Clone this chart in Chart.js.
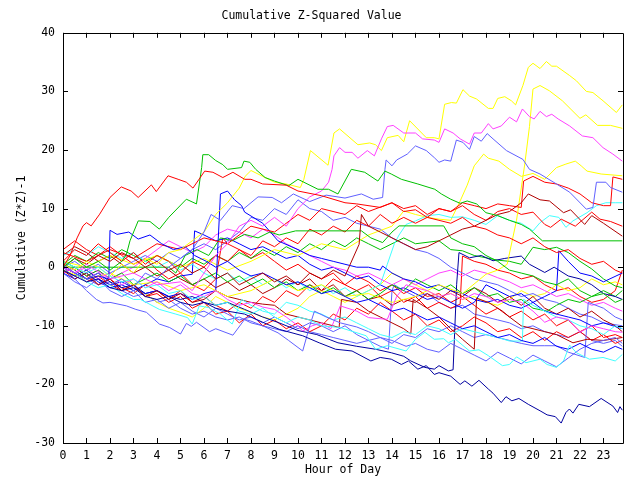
<!DOCTYPE html>
<html>
<head>
<meta charset="utf-8">
<script src="https://cdn.jsdelivr.net/npm/chart.js@4/dist/chart.umd.min.js"></script>
<style>
  html, body { margin: 0; padding: 0; background: #fff; }
  #wrap { width: 640px; height: 480px; }
</style>
</head>
<body>
<div id="wrap"><canvas id="zchart"></canvas></div>
<script>
// hour ticks and value ticks
var hourTicks = [0,1,2,3,4,5,6,7,8,9,10,11,12,13,14,15,16,17,18,19,20,21,22,23];
var valueTicks = [-30,-20,-10,0,10,20,30,40];

// each series: [hour, cumulative value] pairs
var red1 = [[0,0],[0.3,2],[0.6,5],[0.85,7.05],[1.0,7.6],[1.2,7.05],[1.56,9.05],[2.0,11.9],[2.48,13.7],[2.9,13],[3.2,11.9],[3.76,14.05],[3.97,12.9],[4.47,15.6],[4.9,15],[5.25,14.5],[5.53,13.5],[6.03,16.4],[6.38,16.2],[6.8,15.3],[7.23,16.2],[7.73,15],[8,15],[8.5,14.2],[9.5,14],[10,13],[11,12.2],[12,11],[12.5,10.8],[13.5,10.2],[14,11],[14.5,9.5],[15,9.8],[15.5,8.5],[16,8],[16.5,7.5],[17,8.5],[17.5,7],[18,6.5],[18.5,5.5],[19,5],[19.5,4],[20,5],[20.5,3.5],[21,2.5],[21.5,3],[22,1.5],[22.5,0.5],[23,1],[23.5,-0.5],[23.8,-1]];
var red2 = [[0,2.5],[1,1],[2,3],[3,1.5],[4,4],[5,3],[6,5],[7,4],[8,7],[9,6],[10,9],[10.5,8],[11,10],[12,9],[12.5,10.5],[13,9.5],[14,11],[14.5,10],[15,10.5],[15.5,9],[16,10],[16.5,9.5],[17,11],[17.5,10.5],[18,10],[18.5,10.8],[19,10.5],[19.5,10.2],[19.6,14.7],[20.0,15.5],[20.5,14.5],[21,14.2],[21.5,13.5],[22,12.5],[22.5,11],[23,10.5],[23.3,10.5],[23.4,15.4],[23.8,15]];
var red3 = [[0,1],[0.5,3],[1,2],[1.5,4],[2,2.5],[2.5,1],[3,2.5],[3.5,0.5],[4,2],[4.5,1],[5,-1],[5.5,1],[6,0],[6.5,2],[7,1],[7.5,3],[8,2],[8.5,4.5],[9,3.5],[9.5,5],[10,4],[10.5,6.5],[11,5.5],[11.5,7],[12,6],[12.5,8],[13,7],[13.5,9],[14,7.5],[14.5,8.5],[15,7.5],[15.5,8.5],[16,10],[16.5,9.5],[17,10.5],[17.5,9],[18,8],[18.5,9.5],[19,10],[19.5,9],[20,9.4],[20.5,7.3],[20.75,6.8],[21.2,8.2],[21.8,7],[22.5,9.4],[22.85,8.2],[23.3,7.8],[23.8,7]];
var red4 = [[0,0],[0.5,-1],[1,-2.5],[1.5,-1.5],[2,-3],[2.5,-4],[3,-3],[3.5,-5],[4,-4.5],[4.5,-6],[5,-5],[5.5,-7],[6,-6],[6.5,-8],[7,-7.5],[7.5,-9.5],[8,-8],[8.5,-10],[9,-9],[9.5,-10.5],[10,-9.5],[10.5,-11],[11,-10],[11.5,-8],[12,-9],[12.5,-7],[13,-8],[13.5,-6],[14,-7.5],[14.5,-9],[15,-8],[15.5,-10],[16,-9],[16.5,-11],[17,-10],[17.5,-8.5],[18,-9.5],[18.5,-11],[19,-10.5],[19.5,-12],[20,-11],[20.5,-12.5],[21,-11],[21.5,-12],[22,-11],[22.5,-12.5],[23,-11.5],[23.5,-13],[23.8,-12.5]];
var red5 = [[0,3],[0.5,4.5],[1,3],[1.5,2],[2,3.5],[2.5,2],[3,0.5],[3.5,1.5],[4,-0.5],[4.5,-2],[5,-1],[5.5,-3],[6,-4],[6.5,-2],[6.8,5],[7,4],[7.5,3],[8,1.5],[8.5,2.5],[9,1],[9.5,-0.5],[10,0.5],[10.5,-1],[11,-2],[11.5,-1],[12,-3],[12.5,-4],[13,-3],[13.5,-5],[14,-4],[14.5,-6],[15,-5],[15.5,-7],[16,-6],[16.5,-7],[16.9,-6.3],[17,1.9],[17.5,1],[18,0.5],[18.5,-0.5],[19,-1],[19.5,-2],[20,-1.5],[20.5,-3],[21,-4],[21.5,-3.5],[22,-5],[22.5,-6],[23,-5.5],[23.5,-4],[23.8,-0.5]];
var red6 = [[0,-1],[0.5,0],[1,-1.5],[1.5,-3],[2,-2],[2.5,-3.5],[3,-4.5],[3.5,-3],[4,-4],[4.5,-5.5],[5,-4],[5.5,-6],[6,-5],[6.5,-6.5],[7,-7.5],[7.5,-6],[8,-7],[8.5,-5],[9,-6],[9.5,-4],[10,-5],[10.5,-3],[11,-4],[11.5,-2],[12,-3],[12.5,-1.5],[13,-2.5],[13.5,-4],[14,-3],[14.5,-4.5],[15,-3.5],[15.5,-5],[16,-4.5],[16.5,-6],[17,-5],[17.5,-6.5],[18,-8],[18.5,-7],[19,-8.5],[19.5,-7.5],[20,-9],[20.5,-8],[21,-10],[21.5,-9],[22,-11],[22.5,-10],[23,-12],[23.5,-11.5],[23.8,-12]];
var darkRed1 = [[0,0],[0.5,1.5],[1,0.5],[1.5,2],[2,1],[2.5,2.5],[3,1.5],[3.5,0],[4,1],[4.5,-0.5],[5,0.5],[5.5,-1],[6,0],[6.5,-2],[7,-1],[7.5,-3],[8,-2],[8.5,-1],[9,-2.5],[9.5,-1.5],[10,-3],[10.5,-1],[11,-2],[11.5,-0.5],[12,-1.5],[12.6,3.9],[12.7,9],[13,7],[13.5,6],[14,5],[14.5,4],[15,3],[15.5,3.5],[16,4.5],[16.5,5.5],[17,6.5],[17.5,7],[18,8],[18.5,9],[19,9.5],[19.5,11],[19.8,12.5],[20.3,11.5],[20.7,11.3],[21.3,9.3],[21.6,9.8],[22.2,7.3],[22.5,8.8],[23.0,7.5],[23.8,5.3]];
var darkRed2 = [[0,-0.5],[0.5,-2],[1,-1],[1.5,-3],[2,-2],[2.5,-4],[3,-3],[3.5,-5],[4,-4],[4.5,-5.5],[5,-4.5],[5.5,-6],[6,-5.5],[6.5,-4],[7,-5],[7.5,-5.5],[8,-6],[8.5,-6.3],[9,-6.5],[9.5,-8],[10,-8.5],[10.5,-9],[11,-9.5],[11.5,-10],[11.75,-10.3],[11.85,-5.5],[12.5,-6],[13,-7.5],[13.5,-8.5],[14,-9.5],[14.5,-10.5],[14.8,-11.4],[14.9,-5.5],[15.5,-7],[16,-8.5],[16.5,-10.5],[17,-12.3],[17.5,-14],[17.6,-5.3],[18.1,-6],[18.7,-7.5],[19,-8.5],[19.5,-10],[20,-10.5],[20.5,-11],[21,-11.5],[21.7,-12.9],[22.3,-12.3],[23,-12.5],[23.8,-12]];
var darkRed3 = [[0,2],[0.5,3.5],[1,2.5],[1.5,1],[2,2],[2.5,0.5],[3,-1],[3.5,0],[4,-1.5],[4.5,-0.5],[5,-2],[5.5,-3],[6,-2],[6.5,-3.5],[7,-2.5],[7.5,-4],[8,-3],[8.5,-4.5],[9,-3.5],[9.5,-2],[10,-3],[10.5,-2],[11,-4],[11.5,-3],[12,-5],[12.5,-4],[13,-5.5],[13.5,-5],[14,-6.5],[14.5,-5.5],[15,-6],[15.5,-4.5],[16,-5.5],[16.5,-4],[17,-5],[17.5,-3.5],[18,-4.5],[18.5,-6],[19,-5],[19.5,-6.5],[20,-5],[20.5,-7],[21,-8],[21.5,-7],[22,-8.5],[22.5,-7.5],[23,-9],[23.5,-10],[23.8,-11]];
var green1 = [[0,0],[0.5,1.5],[1,0],[1.5,1],[2,-0.5],[2.5,1],[2.7,2.2],[2.85,4.5],[3.2,7.9],[3.7,7.8],[4.1,6.5],[4.5,8.5],[5.25,11.6],[5.68,10.8],[5.9,17],[5.95,19.2],[6.2,19.2],[6.5,18.2],[6.8,17.5],[7.0,16.7],[7.6,17],[7.7,18.1],[7.95,17.9],[8.2,16.7],[8.6,15.3],[9.0,14.7],[9.6,13.9],[10.0,15],[10.85,13.3],[11.3,13.3],[11.7,12.5],[12.27,16.7],[12.84,16.2],[13.4,14.7],[13.7,16.4],[13.97,15.9],[14.4,15],[15.1,14.2],[15.82,13.3],[16.1,12.5],[16.5,11.6],[16.9,10.9],[17.2,11.3],[17.6,10.8],[18.0,9.3],[18.5,8.8],[19.0,8],[19.5,7.3],[19.85,6.5],[20.4,4.5],[23.8,4.5]];
var green2 = [[0,0.5],[0.3,0],[4.5,0],[4.8,-1],[5.2,2],[5.7,3],[6.2,2],[6.7,5],[7.2,4.5],[7.73,5.6],[8.3,5],[8.8,6],[9.2,5.5],[9.9,6.2],[12.7,6.2],[13.1,5],[13.6,4.2],[14.0,6],[14.3,7.05],[16.2,7.05],[16.5,5],[17,4],[17.5,3.5],[18,2],[18.5,1],[19,-0.5],[19.5,-1],[20,-1.5],[20.5,-2.5],[21,-3],[21.5,-2],[22,-4],[22.5,-5],[23,-4.5],[23.5,-6],[23.8,-5.5]];
var green3 = [[0,1],[0.5,0],[1,-1.5],[1.5,-0.5],[2,-2],[2.5,-1],[3,-3],[3.5,-2],[4,-1],[4.5,-2.5],[5,-1.5],[5.5,-3],[6,-2],[6.5,-1],[7,-2.5],[7.5,-1.5],[8,-3],[8.5,-2],[9,-3.5],[9.5,-2.5],[10,-4],[10.5,-3],[11,-4.5],[11.5,-3.5],[12,-5],[12.5,-4],[13,-5.5],[13.5,-4.5],[14,-3],[14.5,-4],[15,-2],[15.5,-3],[16,-4],[16.5,-3],[17,-4.5],[17.5,-3.5],[18,-5],[18.5,-4.5],[19,-6],[19.5,-5.5],[20,-7],[20.6,-7.5],[21,-6.5],[21.5,-5.5],[22,-6],[22.5,-5],[23,-4],[23.5,-5],[23.8,-4]];
var green4 = [[0,0.5],[0.5,2],[1,1],[1.5,2.5],[2,1.5],[2.5,3],[3,2],[3.5,1],[4,2],[4.5,1],[5,0],[5.5,1.5],[6,0.5],[6.5,2],[7,1],[7.5,2.5],[8,1.5],[8.5,3],[9,2],[9.5,3.5],[10,2.5],[10.5,4],[11,3],[11.5,4.5],[12,3.5],[12.5,5],[13,4],[13.5,3],[14,4],[14.5,5],[15,4],[16,4.5],[16.5,3],[17,2.8],[17.5,2],[18,1.6],[18.5,1.2],[19,1],[19.5,0.5],[20,3.4],[20.5,3],[21,3.4],[21.5,2.5],[22,1],[22.5,-0.3],[23,-2],[23.5,-3.2],[23.8,-3.5]];
var lightBlue1 = [[0,0.5],[0.5,-1],[1,-2],[1.5,-1],[2,-3],[2.5,-2],[3,-3.5],[3.5,-1],[4,-2],[4.5,0],[5,1.5],[5.5,3],[6,6],[6.3,9],[6.7,8],[7.2,10.5],[7.7,10],[8.3,12],[8.9,11.9],[9.3,11],[9.8,12.5],[10.5,11.2],[11.2,12.3],[12,11.8],[12.7,12.5],[13.2,11.6],[13.6,11.9],[13.7,16.7],[13.75,18.3],[14.0,17.3],[14.2,18.3],[14.65,19.3],[15.0,20.7],[15.46,19.9],[15.8,18.7],[16.0,17.9],[16.24,18.3],[16.5,18.1],[16.74,21.7],[17.02,21.3],[17.3,20.1],[17.5,22.3],[17.8,21.5],[18.05,22.8],[18.3,21.9],[18.87,19.9],[19.57,18.4],[19.85,16.7],[20.3,15.9],[21.0,14.2],[21.56,12.8],[22.27,9.9],[22.55,10.2],[22.7,14.5],[23.1,14.5],[23.3,13.6],[23.8,12.8]];
var lightBlue2 = [[0,0],[0.5,-2],[1,-4],[1.42,-5.5],[1.7,-6.1],[2,-6],[2.7,-6.6],[3.1,-7.2],[3.55,-7.7],[4.1,-9.7],[4.54,-10.3],[5,-11.4],[5.25,-9.6],[5.46,-10.1],[5.68,-9.4],[6.24,-11],[6.5,-10.5],[7.23,-11.6],[7.73,-8.9],[8,-9.2],[8.5,-10],[9.15,-11.2],[9.6,-12.5],[10.2,-14.3],[10.5,-10],[10.7,-7.5],[11.2,-8.5],[11.8,-9.5],[12.5,-10.2],[13,-11],[13.5,-12],[14,-12.5],[14.6,-13.5],[15,-13],[15.5,-14],[16,-14.5],[16.5,-13],[17,-14],[17.5,-15],[18,-16],[18.5,-14.5],[19,-15.5],[19.5,-16.5],[20,-15],[20.5,-16],[21,-17],[21.5,-15.5],[22,-14],[22.5,-13],[23,-12.5],[23.5,-12],[23.8,-13]];
var lightBlue3 = [[0,-1],[0.5,-2.5],[1,-3.5],[1.5,-2],[2,-4],[2.5,-5],[3,-4],[3.5,-6],[4,-5.5],[4.5,-7],[5,-6],[5.5,-7.5],[6,-8.5],[6.5,-7],[7,-8],[7.5,-9],[8,-8.5],[8.5,-9.5],[9,-8.5],[9.5,-9.5],[10,-10.5],[10.5,-9.5],[11,-10],[11.5,-11],[12,-10],[12.5,-11.5],[13,-12.5],[13.5,-12],[14,-13],[14.5,-11.5],[15,-12],[15.5,-10.5],[16,-11],[16.5,-10],[17,-11],[17.5,-12],[18,-11.5],[18.5,-12],[19,-12.5],[19.5,-13],[20,-13.4],[20.5,-13.4],[21,-13.4],[21.5,-14.5],[22.2,-15.4],[22.35,-6],[23,-7],[23.5,-8.5],[23.8,-9]];
var lightBlue4 = [[0,0],[0.5,1],[1,-0.5],[1.5,0.5],[2,-1],[2.5,0],[3,1],[3.5,2],[4,1],[4.5,2.5],[5,1.5],[5.5,3],[6,4],[6.5,3],[7,4.5],[7.5,6],[8,8.5],[8.5,8],[9,10],[9.5,9],[10,11.5],[10.5,10],[11,9.5],[11.5,8],[12,8.5],[12.5,7.5],[13,7],[13.5,6.5],[14,5],[14.5,4],[15,3],[15.5,2.5],[16,1.5],[16.5,0],[17,-1],[17.5,-2],[18,-2.5],[18.5,-3],[19,-4],[19.5,-5],[20,-4.5],[20.5,-5.5],[21,-6],[21.5,-7],[22,-8],[22.5,-8.5],[23,-9.5],[23.8,-10]];
var lightBlue5 = [[0,0],[0.5,-1],[1,-2],[1.5,-3],[2,-2.5],[2.5,-4],[3,-5],[3.5,-4.5],[4,-6],[4.5,-5.5],[5,-7],[5.5,-8],[6,-7.5],[6.5,-8.5],[7,-9],[7.5,-8.5],[8,-9.5],[8.5,-10],[9,-10.5],[9.5,-11],[10,-10],[10.5,-11],[11,-11.5],[11.5,-12],[12,-12.5],[12.5,-13],[13,-12.5],[13.5,-13.5],[13.85,-14],[14.0,-4],[14.1,-3],[14.5,-4],[15,-5],[15.5,-4.5],[16,-6],[16.5,-7],[17,-6.5],[17.5,-8],[18,-8.5],[18.5,-9],[19,-9.5],[19.5,-10.5],[20,-10],[20.5,-11],[21,-11.5],[21.5,-12],[22,-11],[22.5,-12.5],[23,-13],[23.5,-12.5],[23.8,-13.5]];
var magenta1 = [[0,0],[0.5,-1],[1,0.5],[2,-2],[3,-1],[4,-3],[5,-2.5],[5.5,-4],[6,-1],[6.5,2],[7,4],[7.5,7],[8,8],[8.5,7],[9,8.5],[9.5,7],[10,10],[10.5,12],[11,13],[11.3,14.5],[11.45,16.7],[11.53,19],[11.77,20.4],[12,19.6],[12.3,19.6],[12.55,18.6],[12.95,19.9],[13.25,19],[13.55,21.9],[13.8,24],[14.05,24.2],[14.5,22.9],[15.0,22.9],[15.3,21.9],[15.8,21.7],[16.0,21.3],[16.24,23.6],[16.6,22.9],[16.9,21.9],[17.3,21],[17.5,22.9],[17.8,22.9],[18.1,24.5],[18.3,23.6],[18.65,24.1],[19.0,25.6],[19.3,24.8],[19.55,27],[19.85,25.7],[20.05,25.3],[20.3,26.6],[20.57,25.7],[20.8,26.1],[21.07,25.3],[21.56,24.1],[22.1,22.4],[22.55,22.1],[22.98,20.4],[23.4,19.3],[23.8,18.1]];
var magenta2 = [[0,0.5],[0.5,-1],[1,0],[1.5,-2],[2,-1],[2.5,-3],[3,-2],[3.5,-3.5],[4,-2.5],[4.5,-4],[5,-3],[5.5,-4.5],[6,-5],[6.5,-4],[7,-5.5],[7.5,-6.5],[8,-6],[8.5,-6.8],[9,-7.2],[9.5,-8.5],[10,-10],[10.2,-10.9],[10.6,-10],[11,-9.5],[11.4,-10.5],[11.8,-6.6],[12.5,-7.5],[13,-8.6],[13.8,-8.9],[14.2,-5],[14.6,-3],[15,-3.5],[15.5,-4],[16,-5],[16.5,-4.5],[17,-5.5],[17.5,-4.5],[18,-5],[18.5,-6],[19,-5.5],[19.5,-6],[20,-7.5],[20.5,-9.4],[21,-8.5],[21.5,-8.9],[22,-11.1],[22.5,-10],[23,-10.5],[23.5,-11],[23.8,-11.1]];
var magenta3 = [[0,-1],[0.5,0],[1,-1.5],[1.5,-0.5],[2,-2],[2.5,-1],[3,0],[3.5,1.5],[4,3],[4.5,4.5],[5,3.5],[5.5,2.5],[6,3.5],[6.5,5.5],[7,6.5],[7.5,6],[8,5],[8.5,6.5],[9,5.5],[9.5,4],[10,3],[10.5,2],[11,1],[11.5,0],[12,-0.5],[12.5,-1.5],[13,-1],[13.5,-2],[14,-3],[14.5,-2],[15,-3],[15.5,-2],[16,-1],[16.5,-0.5],[17,-1.5],[17.5,-0.5],[18,-1],[18.5,-1.8],[19,-2.5],[19.5,-3.5],[20,-3],[20.5,-4],[21,-5],[21.5,-4.5],[22,-5.5],[22.5,-6.5],[23,-6],[23.5,-7],[23.8,-7.5]];
var cyan1 = [[0,1],[0.5,0],[1,-1],[1.5,0],[2,-1.5],[2.5,-2.5],[3,-2],[3.5,-3.5],[4,-3],[4.5,-4.5],[5,-4],[5.5,-5.5],[6,-5],[6.5,-6.5],[7,-6],[7.5,-7.5],[8,-8],[8.5,-7],[9,-8.5],[9.5,-9.5],[10,-8.5],[10.5,-9],[11,-10],[11.8,-10.3],[12.9,-11.7],[13.3,-14],[13.8,-13.4],[14.6,-14.3],[15,-12.3],[15.4,-11.1],[15.8,-12.3],[16.2,-12.2],[16.4,-12.9],[16.7,-12.3],[17.3,-14.3],[17.7,-14.1],[18.1,-15.1],[18.7,-16.8],[19,-16.6],[19.3,-15.3],[19.7,-16.3],[20.3,-15.7],[20.6,-16.6],[21,-17.1],[21.3,-16],[21.56,-13.3],[21.85,-14.6],[22.4,-15.7],[22.98,-15.4],[23.5,-16],[23.8,-14.9]];
var cyan2 = [[0,0],[0.5,-1],[1,-2.5],[1.5,-3.5],[2,-3],[2.5,-4.5],[3,-5.5],[3.3,-5.5],[4.1,-7.2],[4.8,-8],[5.3,-8.6],[5.5,-9.7],[5.8,-6.6],[6.2,-6.9],[6.7,-8],[7.2,-9.7],[7.6,-5.5],[8,-6.5],[8.5,-7.5],[9,-8],[9.5,-6],[10,-6.5],[10.5,-7.5],[11,-8],[11.5,-9],[12,-8.5],[12.5,-9.5],[13,-10.5],[13.5,-11.5],[14,-12],[14.5,-11],[15,-11.5],[15.5,-10],[16,-10.5],[16.5,-11.5],[17,-10.5],[17.5,-11],[18,-11.5],[18.5,-12],[19,-12.6],[19.55,-12.6],[19.6,-5.5],[20,-6.5],[20.5,-7.5],[21,-8.5],[21.5,-9],[22,-10],[22.5,-10.5],[23,-11.5],[23.5,-10],[23.8,-10.5]];
var cyan3 = [[0,2],[0.5,3],[1,2],[1.5,3.5],[2,2.5],[2.5,1.5],[3,2.5],[3.5,1],[4,0],[4.5,1],[5,-0.5],[5.5,0.5],[6,-1],[6.5,-2],[7,-1],[7.5,-2.5],[8,-1.5],[8.5,-3],[9,-2],[9.5,-3.5],[10,-2.5],[10.5,-4],[11,-3],[11.5,-4.5],[12,-3.5],[12.5,-5],[13,-4],[13.5,-3],[13.8,0.5],[14.1,4],[14.3,5.5],[14.6,7.3],[15,7.9],[15.5,8.8],[16,9],[16.5,8.5],[17,8.6],[17.5,8],[18,7.3],[18.5,8.8],[19,8],[19.5,7.5],[20,6.2],[20.3,7.6],[20.7,8.8],[21.1,8.5],[21.4,6.8],[21.7,7.9],[22.3,9.3],[22.7,10.5],[23.1,11],[23.5,11],[23.8,11]];
var yellow1 = [[0,0.5],[0.5,-0.5],[1,1],[1.5,0],[2,-1.5],[2.5,0.5],[3,-1],[3.5,1.5],[4,0.5],[4.5,2.5],[5,3],[5.5,4.5],[6,6],[6.5,9],[7,11],[7.5,13.5],[7.75,15.5],[8,16.5],[8.5,15.5],[9,14.5],[9.5,14.2],[10.1,13.6],[10.25,15],[10.53,19.9],[11.28,17.4],[11.53,22.9],[11.77,23.6],[12.55,20.9],[13.05,21.2],[13.3,20.9],[13.55,19.9],[13.8,22.1],[14.26,22.5],[14.5,21.4],[14.75,25],[15.46,22.1],[15.8,22.1],[16.0,21.9],[16.24,27.8],[16.53,28.1],[16.74,28],[17.02,30.3],[17.3,29.2],[17.6,28.7],[18.1,27.1],[18.3,27.1],[18.5,28.8],[18.8,29.1],[19.08,28.4],[19.26,27.7],[19.57,31],[19.8,34.1],[20.0,34.8],[20.3,33.9],[20.57,35.1],[20.8,34.3],[21.0,34.3],[21.56,32.7],[21.85,31.8],[22.27,30],[22.55,29.8],[22.98,28.4],[23.55,26.4],[23.8,27.7]];
var yellow2 = [[0,-0.5],[1,-2],[2,-1],[3,-3],[4,-2.5],[5,-4],[6,-3],[7,-5],[8,-4],[9,-2],[10,-4],[11,-3],[12,-5],[13,-4.5],[14,-6],[15,-5],[16,-3],[17,-4.5],[18,-1.2],[18.5,-0.5],[18.9,0.5],[19.3,8],[19.65,17.6],[19.85,24],[20.0,30.4],[20.3,31],[20.7,30.1],[21.25,28.4],[22.0,25.4],[22.25,26],[22.75,24.2],[23.3,24.2],[23.8,23.7]];
var yellow3 = [[0,1],[1,0],[2,2],[3,0.5],[4,2],[5,0],[6,1.5],[7,-0.5],[8,1],[9,3],[10,2],[11,4],[12,3],[13,5.5],[14,7],[14.5,9.6],[15,9],[15.5,8.5],[16,8.2],[16.5,8],[16.9,11.3],[17.2,14],[17.5,17.3],[17.9,19.3],[18.1,18.6],[18.55,18.1],[19,16.7],[19.5,15.5],[20,16],[20.5,15],[21,17],[21.4,17.6],[21.8,18.1],[22.05,17.3],[22.3,16.4],[22.9,15.9],[23.8,15.6]];
var yellow4 = [[0,-0.5],[0.5,-1.5],[1,-0.5],[1.5,-2],[2,-3],[2.5,-2],[3,-3.5],[3.5,-4.5],[4,-6],[4.5,-7],[5,-7.7],[5.5,-8.5],[6,-7],[6.5,-5],[7,-6],[7.5,-7],[8,-7.7],[8.5,-8.5],[9,-9],[9.5,-8],[10,-7],[10.5,-5],[11,-4],[11.5,-5],[12,-6],[12.5,-5],[13,-4],[13.5,-3],[14,-1],[14.5,-2],[15,-3],[15.5,-4],[16,-5],[16.5,-4.5],[17,-5.5],[17.5,-5],[18,-6],[18.5,-6.5],[19,-5.5],[19.5,-4],[20,-5],[20.5,-4.5],[21,-3],[21.5,-4],[22,-3.5],[22.5,-2],[23,-3],[23.5,-2.5],[23.8,-3]];
var blue1 = [[0,0],[0.5,-1],[1,-2],[1.5,-1.5],[1.95,-2],[2.0,6.3],[2.3,5.6],[2.8,6],[3.2,4.8],[3.7,5.5],[4.2,4],[4.7,3],[5.2,3.5],[5.6,2],[6.1,1],[6.5,0],[7,1],[7.5,-0.5],[8,-1.5],[8.5,-1],[9,-2],[9.5,-3],[10,-2.5],[10.5,-3.5],[11,-4.5],[11.5,-4],[12,-5],[12.5,-6],[13,-5.5],[13.5,-6.5],[14,-7.5],[14.5,-7],[15,-8],[15.5,-9],[16,-8.5],[16.5,-9.5],[17,-10.5],[17.5,-10],[18,-11],[18.5,-12],[19,-11.5],[19.5,-12.5],[20,-13],[20.5,-12],[21,-13.5],[21.5,-14],[22,-13],[22.5,-14],[23,-14.5],[23.5,-13.5],[23.8,-14]];
var blue2 = [[0,-0.5],[0.5,-1.5],[1,-0.5],[1.5,-2],[2,-3],[2.5,-2.5],[3,-3.5],[3.5,-4.5],[4,-4],[4.5,-5],[5,-4.5],[5.5,-5.5],[6,-4.5],[6.5,-4],[6.7,12.5],[7,13],[7.3,11.5],[7.6,10.5],[7.73,9.4],[8.5,7.5],[9.15,4.5],[10,3],[10.5,2],[11,1.5],[11.5,1],[12,0.5],[12.5,0],[13,0],[13.5,-0.5],[13.6,0.2],[14,-1],[14.5,-2],[15,-2.5],[15.5,-3.5],[16,-3],[16.5,-4],[17,-4.5],[17.5,-5.5],[18,-6],[18.5,-5.5],[19,-6.5],[19.5,-7],[20,-6],[20.5,-7.5],[21,-8],[21.5,-8.5],[22,-9],[22.5,-10],[23,-9.5],[23.8,-10.5]];
var blue3 = [[0,-1],[0.5,-2],[1,-1],[1.5,-2.5],[2,-3.5],[2.5,-3],[3,-4],[3.5,-3],[4,-2],[4.5,-2.5],[5,-1.5],[5.5,-1.2],[5.6,6.2],[6,5.5],[6.5,4.5],[7,5],[7.5,4],[8,3],[8.5,3.5],[9,2.5],[9.5,1.5],[10,2],[10.5,0.5],[11,-0.5],[11.5,0],[12,-1],[12.5,-2],[13,-1.5],[13.5,-3],[14,-4],[14.5,-3.5],[15,-4.5],[15.5,-5.5],[16,-5],[16.5,-6],[17,-7],[17.5,-6],[18,-3],[18.5,-4],[19,-5],[19.5,-4.5],[20,-6],[20.5,-5],[21,-4],[21.1,2.8],[21.5,1],[22,-1],[22.5,-1.5],[23,-2.5],[23.8,-1]];
var navy1 = [[0,-0.5],[0.5,-1.5],[1,-2.5],[1.5,-2],[2,-3.5],[2.5,-4],[3,-3.5],[3.5,-5],[4,-5.5],[4.5,-5],[5,-6],[5.5,-6.5],[6,-6],[6.5,-7],[7,-7.5],[7.73,-8],[8.5,-9.4],[9.2,-10.6],[10.2,-11.7],[10.9,-12.9],[11.6,-14],[12.3,-14.3],[13.1,-16],[13.5,-15.4],[13.97,-15.7],[14.4,-16.6],[14.7,-16],[15.1,-17.4],[15.46,-16.8],[15.8,-18.3],[16.0,-18],[16.5,-18.6],[16.9,-20],[17.1,-19.4],[17.4,-20.3],[17.7,-19.3],[18.1,-20.8],[18.3,-21.5],[18.65,-23.1],[18.85,-22.1],[19.1,-22.8],[19.4,-22.4],[19.8,-23.4],[20.3,-24.5],[20.6,-25.2],[20.95,-25.5],[21.2,-26.6],[21.4,-24.8],[21.55,-24.2],[21.7,-24.9],[21.95,-23.4],[22.4,-23.8],[22.9,-22.4],[23.4,-23.7],[23.6,-24.8],[23.7,-23.8],[23.8,-24.4]];
var navy2 = [[0,0.5],[0.5,-0.5],[1,-2],[1.5,-1],[2,-2.5],[2.5,-3.5],[3,-3],[3.5,-4.5],[4,-4],[4.5,-5],[5,-5.5],[5.5,-5],[6,-6],[6.5,-6.5],[7,-6],[7.73,-7.2],[8.5,-8.5],[9.2,-9.5],[10,-10.8],[10.8,-11.5],[11.7,-12.9],[12.5,-13.5],[13.3,-14],[13.97,-14.6],[14.5,-15.2],[14.8,-16],[15.4,-17.1],[15.8,-17.4],[16.0,-16.8],[16.4,-17.7],[16.6,-17.5],[16.75,-3],[16.85,2.5],[17.3,1.6],[17.8,2],[18.3,1.1],[18.8,1.5],[19.5,1.9],[19.85,0.5],[20.5,-0.9],[20.9,0],[21.5,-1.5],[22,-2],[22.5,-3],[23,-4.5],[23.5,-5],[23.8,-5.5]];

var seriesList = [
  [red1, '#ff0000'], [green1, '#00c000'], [lightBlue1, '#6060ff'], [magenta1, '#ff40ff'],
  [cyan1, '#40ffff'], [yellow1, '#ffff00'], [darkRed1, '#b00000'], [blue1, '#0000ff'],
  [navy1, '#0000a0'], [red2, '#ff0000'], [green2, '#00c000'], [lightBlue2, '#6060ff'],
  [magenta2, '#ff40ff'], [cyan2, '#40ffff'], [yellow2, '#ffff00'], [darkRed2, '#b00000'],
  [blue2, '#0000ff'], [navy2, '#0000a0'], [red3, '#ff0000'], [green3, '#00c000'],
  [lightBlue3, '#6060ff'], [magenta3, '#ff40ff'], [cyan3, '#40ffff'], [yellow3, '#ffff00'],
  [darkRed3, '#b00000'], [blue3, '#0000ff'], [red4, '#ff0000'], [green4, '#00c000'],
  [lightBlue4, '#6060ff'], [yellow4, '#ffff00'], [red5, '#ff0000'], [lightBlue5, '#6060ff'],
  [red6, '#ff0000']
];

var monoFont = { family: "'DejaVu Sans Mono', monospace", size: 11.5, weight: 'normal' };

var datasets = seriesList.map(function (s) {
  return {
    data: s[0].map(function (p) { return { x: p[0], y: p[1] }; }),
    borderColor: s[1],
    borderWidth: 1,
    pointRadius: 0,
    tension: 0,
    fill: false
  };
});

// frame with inward ticks on all four sides, like the original
var framePlugin = {
  id: 'frame',
  afterDraw: function (chart) {
    var ctx = chart.ctx;
    var a = chart.chartArea;
    var xs = chart.scales.x, ys = chart.scales.y;
    ctx.save();
    ctx.strokeStyle = '#000';
    ctx.lineWidth = 1;
    ctx.beginPath();
    ctx.rect(Math.round(a.left) + 0.5, Math.round(a.top) + 0.5,
      Math.round(a.right - a.left), Math.round(a.bottom - a.top));
    hourTicks.forEach(function (h) {
      var px = Math.round(xs.getPixelForValue(h)) + 0.5;
      ctx.moveTo(px, a.bottom); ctx.lineTo(px, a.bottom - 5);
      ctx.moveTo(px, a.top); ctx.lineTo(px, a.top + 5);
    });
    valueTicks.forEach(function (v) {
      var py = Math.round(ys.getPixelForValue(v)) + 0.5;
      ctx.moveTo(a.left, py); ctx.lineTo(a.left + 5, py);
      ctx.moveTo(a.right, py); ctx.lineTo(a.right - 5, py);
    });
    ctx.stroke();
    ctx.restore();
  }
};

new Chart(document.getElementById('zchart'), {
  type: 'line',
  data: { datasets: datasets },
  options: {
    responsive: true,
    maintainAspectRatio: false,
    animation: false,
    layout: { padding: { left: 0, right: 17, top: 0, bottom: 0 } },
    plugins: {
      legend: { display: false },
      tooltip: { enabled: false },
      title: {
        display: true,
        text: 'Cumulative Z-Squared Value',
        color: '#000',
        font: monoFont,
        padding: { top: 9, bottom: 10 }
      }
    },
    scales: {
      x: {
        type: 'linear',
        min: 0,
        max: 23.83,
        afterFit: function (scale) { scale.height = 37; },
        afterBuildTicks: function (scale) {
          scale.ticks = hourTicks.map(function (h) { return { value: h }; });
        },
        grid: { display: false, drawTicks: false },
        border: { display: false },
        ticks: {
          autoSkip: false,
          maxRotation: 0,
          padding: 6,
          color: '#000',
          font: monoFont,
          callback: function (v) { return String(v); }
        },
        title: {
          display: true,
          text: 'Hour of Day',
          color: '#000',
          font: monoFont,
          padding: { top: 0, bottom: 3 }
        }
      },
      y: {
        min: -30,
        max: 40,
        afterFit: function (scale) { scale.width = 63; },
        afterBuildTicks: function (scale) {
          scale.ticks = valueTicks.map(function (v) { return { value: v }; });
        },
        grid: { display: false, drawTicks: false },
        border: { display: false },
        ticks: {
          padding: 8,
          color: '#000',
          font: monoFont
        },
        title: {
          display: true,
          text: 'Cumulative (Z*Z)-1',
          color: '#000',
          font: monoFont,
          padding: { top: 15, bottom: 0 }
        }
      }
    }
  },
  plugins: [framePlugin]
});
</script>
</body>
</html>
